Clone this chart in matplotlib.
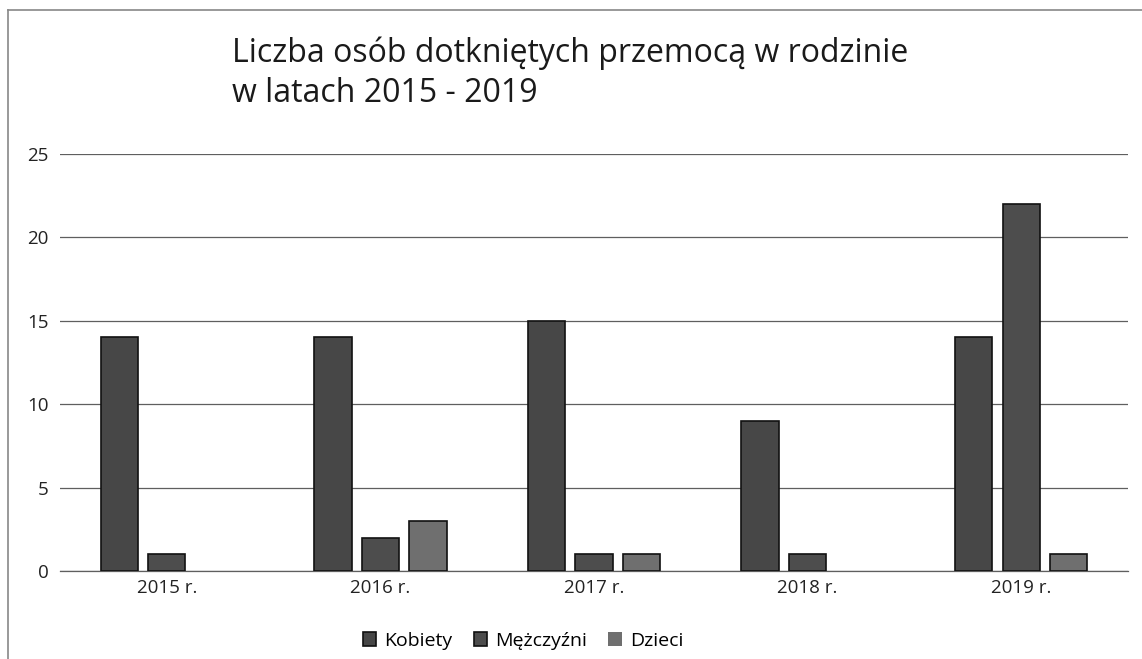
import numpy as np
import matplotlib.pyplot as plt
from matplotlib.lines import Line2D

# dane
lata = ['2015 r.', '2016 r.', '2017 r.', '2018 r.', '2019 r.']
kobiety = [14, 14, 15, 9, 14]
mezczyzni = [1, 2, 1, 1, 22]
dzieci = [0, 3, 1, 0, 1]
serie = ['Kobiety', 'Mężczyźni', 'Dzieci']
kolory = ['#474747', '#4d4d4d', '#6f6f6f']

plt.rcParams['font.family'] = ['Open Sans', 'DejaVu Sans']

fig = plt.figure(figsize=(11.42, 6.59), dpi=100)
ax = fig.add_axes([60 / 1142, 1 - 571 / 659, 1068 / 1142, 417 / 659])

x = np.arange(len(lata))
w = 0.175
off = 0.222
for i, (vals, name, c) in enumerate(zip([kobiety, mezczyzni, dzieci], serie, kolory)):
    lw = [1.2 if v > 0 else 0 for v in vals]
    ax.bar(x + (i - 1) * off, vals, width=w, color=c, edgecolor='#111111',
           linewidth=lw, label=name, zorder=3)

ax.set_xlim(-0.5, len(lata) - 0.5)
ax.set_ylim(0, 25)
ax.set_yticks(range(0, 26, 5))
ax.set_xticks(x)
ax.set_xticklabels(lata)
ax.tick_params(length=0, labelsize=13.5, colors='#222222', pad=6)
ax.tick_params(axis='y', pad=8)
ax.grid(axis='y', color='#5f5f5f', linewidth=0.9, zorder=0)
ax.axhline(0, color='#5f5f5f', linewidth=0.9, zorder=2, clip_on=False)
for s in ax.spines.values():
    s.set_visible(False)

fig.text(232 / 1142, 1 - 73 / 659,
         'Liczba osób dotkniętych przemocą w rodzinie\nw latach 2015 - 2019',
         fontsize=23, color='#1a1a1a', va='center', ha='left', linespacing=1.3)

fig.legend(loc='center', bbox_to_anchor=(523 / 1142, 1 - 641 / 659), ncol=3,
           frameon=False, fontsize=14, handlelength=0.7, handleheight=0.7,
           handletextpad=0.4, columnspacing=1.1)

# ramka skanu
fig.add_artist(Line2D([8 / 1142, 8 / 1142], [0, 1 - 10 / 659], transform=fig.transFigure,
                      color='#888888', linewidth=1.2))
fig.add_artist(Line2D([8 / 1142, 1], [1 - 10 / 659, 1 - 10 / 659], transform=fig.transFigure,
                      color='#888888', linewidth=1.2))

fig.savefig('out.png', dpi=100)
